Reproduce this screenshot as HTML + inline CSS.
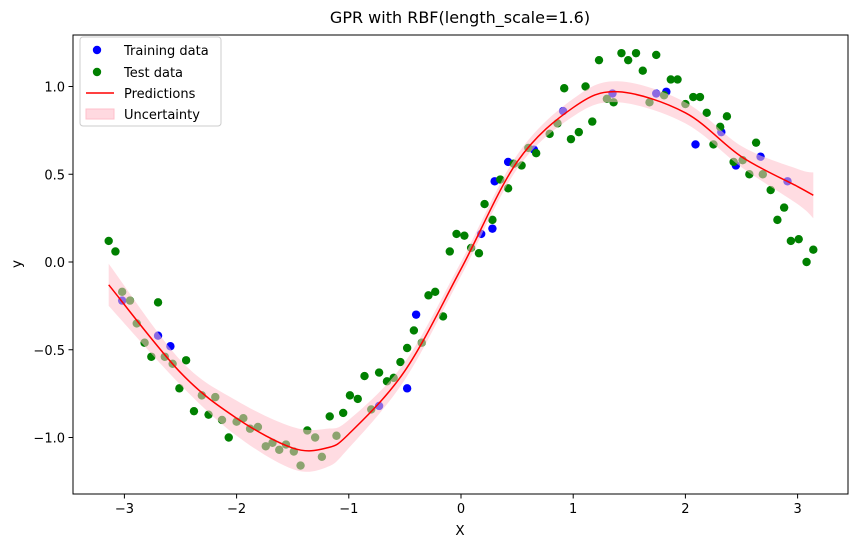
<!DOCTYPE html>
<html><head><meta charset="utf-8"><style>
body{margin:0;background:#fff;}
svg{display:block;font-family:"DejaVu Sans","Liberation Sans",sans-serif;}
</style></head><body>
<svg id="chart" width="857" height="547">
<rect width="857" height="547" fill="#fff"/>
<g id="marks"></g>
<rect x="73" y="35" width="775" height="459" fill="none" stroke="#000" stroke-width="1"/>
<g id="axes"></g>
<text x="460" y="23" text-anchor="middle" font-size="16">GPR with RBF(length_scale=1.6)</text>
<text x="460" y="535" text-anchor="middle" font-size="13.5">X</text>
<text x="21" y="264" text-anchor="middle" font-size="13.5" transform="rotate(-90 21 264)">y</text>
<g>
<rect x="80" y="37" width="141" height="89" rx="3" fill="#fff" fill-opacity="0.8" stroke="#ccc"/>
<g><circle cx="97" cy="50" r="4.2" fill="#0000ff"/><text x="124" y="55" font-size="13">Training data</text></g>
<g><circle cx="97" cy="72" r="4.2" fill="#008000"/><text x="124" y="77" font-size="13">Test data</text></g>
<g><line x1="86" y1="93" x2="114" y2="93" stroke="#ff0000" stroke-width="1.5"/><text x="124" y="98" font-size="13">Predictions</text></g>
<g><rect x="86" y="109" width="28" height="10" fill="#ffc0cb" fill-opacity="0.6" stroke="#ffc0cb"/><text x="124" y="119" font-size="13">Uncertainty</text></g>
</g>
</svg>
<script>
const trainX=[-3.02,-2.70,-2.59,-0.73,-0.48,-0.40,0.18,0.28,0.30,0.42,0.65,0.91,1.35,1.74,1.83,2.09,2.32,2.45,2.67,2.91];
const trainY=[-0.22,-0.42,-0.48,-0.82,-0.72,-0.30,0.16,0.19,0.46,0.57,0.64,0.86,0.96,0.96,0.97,0.67,0.74,0.55,0.60,0.46];
const testX=[-3.14,-3.08,-3.02,-2.95,-2.89,-2.70,-2.82,-2.76,-2.64,-2.57,-2.45,-2.51,-2.31,-2.19,-2.38,-2.25,-2.13,-2.00,-1.94,-2.07,-1.88,-1.81,-1.74,-1.68,-1.62,-1.56,-1.49,-1.43,-1.37,-1.30,-1.24,-1.11,-1.17,-1.05,-0.99,-0.92,-0.86,-0.80,-0.73,-0.66,-0.60,-0.54,-0.48,-0.42,-0.35,-0.29,-0.23,-0.16,-0.10,-0.04,0.03,0.09,0.16,0.28,0.21,0.35,0.42,0.47,0.54,0.60,0.67,0.79,0.86,0.98,1.05,1.17,0.92,1.11,1.23,1.30,1.36,1.43,1.49,1.56,1.62,1.68,1.74,1.81,1.87,1.93,2.00,2.07,2.13,2.19,2.25,2.31,2.37,2.43,2.51,2.57,2.63,2.69,2.76,2.82,2.88,2.94,3.01,3.08,3.14];
const testY=[0.12,0.06,-0.17,-0.22,-0.35,-0.23,-0.46,-0.54,-0.54,-0.58,-0.56,-0.72,-0.76,-0.77,-0.85,-0.87,-0.90,-0.91,-0.89,-1.00,-0.95,-0.94,-1.05,-1.03,-1.07,-1.04,-1.08,-1.16,-0.96,-1.00,-1.11,-0.99,-0.88,-0.86,-0.76,-0.78,-0.65,-0.84,-0.63,-0.68,-0.66,-0.57,-0.49,-0.39,-0.46,-0.19,-0.17,-0.31,0.06,0.16,0.15,0.08,0.05,0.24,0.33,0.47,0.42,0.56,0.55,0.65,0.62,0.73,0.79,0.70,0.74,0.80,0.99,1.00,1.15,0.93,0.91,1.19,1.15,1.19,1.09,0.91,1.18,0.95,1.04,1.04,0.90,0.94,0.94,0.85,0.67,0.77,0.83,0.57,0.58,0.50,0.68,0.50,0.41,0.24,0.31,0.12,0.13,0.00,0.07];
const predX=[-3.14,-2.5,-2,-1.5,-1.2,-1,-0.5,0,0.5,1,1.4,2,2.5,3,3.14];
const predY=[-0.13,-0.63,-0.89,-1.06,-1.06,-0.98,-0.62,-0.04,0.57,0.88,0.97,0.85,0.60,0.43,0.38];
const predStd=[0.12,0.07,0.10,0.12,0.11,0.08,0.05,0.04,0.04,0.05,0.06,0.06,0.06,0.10,0.13];
const xTicks=[-3,-2,-1,0,1,2,3];
const yTicks=[-1.0,-0.5,0.0,0.5,1.0];

const NS="http://www.w3.org/2000/svg";
const sx=v=>461+112.2*v, sy=v=>262-175.5*v;
const marks=document.getElementById('marks'), axes=document.getElementById('axes');
function mk(tag,attrs,parent){const e=document.createElementNS(NS,tag);for(const k in attrs)e.setAttribute(k,attrs[k]);parent.appendChild(e);return e;}
function smooth(pts){let d='M'+pts[0][0]+','+pts[0][1];
 for(let i=0;i<pts.length-1;i++){const p0=pts[Math.max(0,i-1)],p1=pts[i],p2=pts[i+1],p3=pts[Math.min(pts.length-1,i+2)];
  const c1=[p1[0]+(p2[0]-p0[0])/6,p1[1]+(p2[1]-p0[1])/6],c2=[p2[0]-(p3[0]-p1[0])/6,p2[1]-(p3[1]-p1[1])/6];
  d+=' C'+c1+' '+c2+' '+p2;}return d;}
trainX.forEach((x,i)=>{const c=mk('circle',{cx:sx(x),cy:sy(trainY[i]),r:4.2,fill:'#0000ff'},marks);

});
testX.forEach((x,i)=>{const c=mk('circle',{cx:sx(x),cy:sy(testY[i]),r:4.2,fill:'#008000'},marks);

});
const up=predX.map((x,i)=>[sx(x),sy(predY[i]+predStd[i])]);
const lo=predX.map((x,i)=>[sx(x),sy(predY[i]-predStd[i])]).reverse();
const band=mk('path',{d:smooth(up)+' L'+lo[0]+' '+smooth(lo).slice(1)+' Z',fill:'#ffc0cb','fill-opacity':0.55},marks);


const line=mk('path',{d:smooth(predX.map((x,i)=>[sx(x),sy(predY[i])])),fill:'none',stroke:'#ff0000','stroke-width':1.5},marks);


xTicks.forEach(t=>{mk('line',{x1:sx(t),x2:sx(t),y1:494,y2:498.5,stroke:'#000'},axes);
const tx=mk('text',{x:sx(t),y:513,'text-anchor':'middle','font-size':13},axes);tx.textContent=(t<0?'\u2212'+(-t):t);

});
yTicks.forEach(t=>{mk('line',{x1:68.5,x2:73,y1:sy(t),y2:sy(t),stroke:'#000'},axes);
const tx=mk('text',{x:65,y:sy(t)+5,'text-anchor':'end','font-size':13},axes);tx.textContent=(t<0?'\u2212':'')+Math.abs(t).toFixed(1);

});
</script>
</body></html>
